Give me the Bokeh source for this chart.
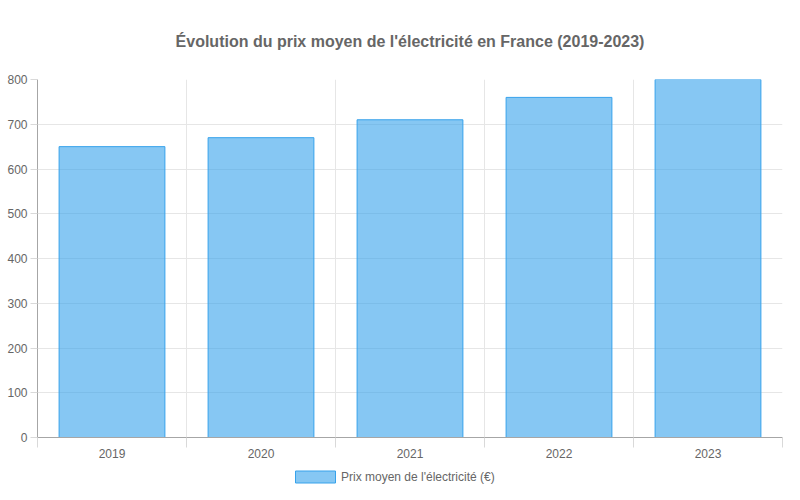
from bokeh.plotting import figure
from bokeh.models import FixedTicker, Legend, LegendItem, Range1d, ColumnDataSource
from bokeh.layouts import column
from bokeh.embed import file_html
from bokeh.resources import INLINE

years = ["2019", "2020", "2021", "2022", "2023"]
prix = [650, 670, 710, 760, 800]
y_ticks = [0, 100, 200, 300, 400, 500, 600, 700, 800]
title_text = "Évolution du prix moyen de l'électricité en France (2019-2023)"
series_name = "Prix moyen de l'électricité (€)"

FONT = "Liberation Sans"
GREY = "#666666"
BAR_KW = dict(fill_color="#36a2eb", fill_alpha=0.6, line_color="#36a2eb", line_width=1)

xpos = [i + 0.5 for i in range(len(years))]
src = ColumnDataSource(dict(x=xpos, top=prix))

p = figure(width=784, height=461, output_backend="svg", toolbar_location=None,
           x_range=Range1d(0, len(years)), y_range=Range1d(0, 800),
           min_border_left=37, min_border_right=2, min_border_top=79, min_border_bottom=24)

r = p.vbar(x="x", top="top", width=0.71, source=src, **BAR_KW)

p.title.text = title_text
p.title.align = "center"
p.title.text_font = FONT
p.title.text_font_size = "16px"
p.title.text_font_style = "bold"
p.title.text_color = GREY
p.title.standoff = 60

p.outline_line_color = None
p.background_fill_color = "white"
p.border_fill_color = "white"

# X axis
xa = p.xaxis[0]
xa.ticker = FixedTicker(ticks=xpos, minor_ticks=list(range(len(years) + 1)))
xa.major_label_overrides = {x: y for x, y in zip(xpos, years)}
xa.major_tick_line_color = None
xa.major_tick_in = 0
xa.major_tick_out = 0
xa.minor_tick_in = 0
xa.minor_tick_out = 10
xa.minor_tick_line_color = "#d9d9d9"
xa.axis_line_color = "#a6a6a6"
xa.major_label_text_font = FONT
xa.major_label_text_font_size = "12px"
xa.major_label_text_color = GREY
xa.major_label_standoff = 1

# Y axis
ya = p.yaxis[0]
ya.ticker = FixedTicker(ticks=y_ticks)
ya.minor_tick_line_color = None
ya.major_tick_in = 0
ya.major_tick_out = 7
ya.major_tick_line_color = "#d9d9d9"
ya.axis_line_color = "#a6a6a6"
ya.major_label_text_font = FONT
ya.major_label_text_font_size = "12px"
ya.major_label_text_color = GREY
ya.major_label_standoff = 3

p.xgrid.ticker = FixedTicker(ticks=list(range(len(years) + 1)))
p.xgrid.grid_line_color = "#e6e6e6"
p.ygrid.grid_line_color = "#e6e6e6"

# Legend strip (its renderer is hidden; the legend shows the glyph)
leg = figure(width=784, height=23, output_backend="svg", toolbar_location=None,
             x_axis_location=None, y_axis_location=None,
             min_border_left=0, min_border_right=0, min_border_top=0, min_border_bottom=0)
leg.outline_line_color = None
leg.xgrid.visible = False
leg.ygrid.visible = False
lr = leg.vbar(x="x", top="top", width=0.71, source=src, visible=False, **BAR_KW)
legend = Legend(items=[LegendItem(label=series_name, renderers=[lr])],
                orientation="horizontal", location=(253, 0),
                glyph_width=50, glyph_height=15, label_standoff=1,
                label_text_font=FONT, label_text_font_size="12px",
                label_text_color=GREY, border_line_color=None,
                background_fill_alpha=0, inactive_fill_alpha=0,
                margin=0, padding=2, spacing=0)
leg.add_layout(legend, "center")

layout = column(p, leg, spacing=0)
open("out.html", "w").write(file_html(layout, INLINE))
